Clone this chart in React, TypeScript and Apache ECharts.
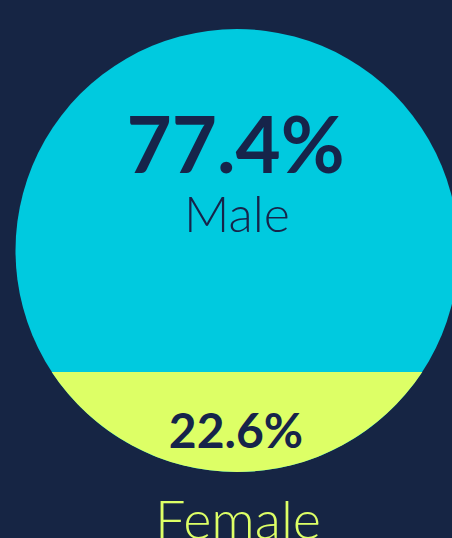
import React, { useEffect, useRef } from "react";
import * as echarts from "echarts";

const categories = ["Male", "Female"];
const shares = [77.4, 22.6];
const axisMin = 0;
const axisMax = 100;

const BG = "#162544";
const CYAN = "#00cadf";
const LIME = "#ddff66";
const INK = "#16244a";
const FONT = "Lato, 'Noto Sans', sans-serif";

export default function App() {
  const ref = useRef<HTMLDivElement>(null);
  useEffect(() => {
    document.body.style.margin = "0";
    document.body.style.background = BG;
    const chart = echarts.init(ref.current!, null, { renderer: "svg" });
    chart.setOption({
      animation: false,
      backgroundColor: BG,
      grid: { left: 15.5, top: 29, right: 0, height: 443 },
      xAxis: { type: "value", min: 0, max: 1, show: false },
      yAxis: { type: "value", min: axisMin, max: axisMax, show: false },
      series: [
        {
          type: "custom",
          coordinateSystem: "cartesian2d",
          data: [[0, shares[1], shares[0]]],
          renderItem: (params: any, api: any) => {
            const female = api.value(1);
            const male = api.value(2);
            const top = api.coord([0, axisMax]);
            const bottom = api.coord([0, axisMin]);
            const r = (bottom[1] - top[1]) / 2;
            const cx = top[0] + r;
            const cy = top[1] + r;
            const ys = api.coord([0, female])[1];
            const dy = ys - cy;
            const w = Math.sqrt(Math.max(0, r * r - dy * dy));
            const large = dy < 0 ? 1 : 0;
            const segPath = `M ${cx + w} ${ys} A ${r} ${r} 0 ${large} 1 ${cx - w} ${ys} Z`;
            return {
              type: "group",
              children: [
                { type: "circle", shape: { cx, cy, r }, style: { fill: CYAN } },
                { type: "path", shape: { pathData: segPath }, style: { fill: LIME } },
                {
                  type: "text",
                  style: {
                    text: male.toFixed(1) + "%",
                    x: cx - 1.5, y: top[1] + 0.258 * 2 * r,
                    align: "center", verticalAlign: "middle",
                    fill: INK, fontSize: 78, fontWeight: "bold", fontFamily: FONT,
                  },
                },
                {
                  type: "text",
                  style: {
                    text: categories[0],
                    x: cx, y: top[1] + 0.415 * 2 * r,
                    align: "center", verticalAlign: "middle",
                    fill: INK, fontSize: 50, fontWeight: 300, fontFamily: FONT,
                  },
                },
                {
                  type: "text",
                  style: {
                    text: female.toFixed(1) + "%",
                    x: cx - 1, y: top[1] + 0.903 * 2 * r,
                    align: "center", verticalAlign: "middle",
                    fill: INK, fontSize: 48, fontWeight: "bold", fontFamily: FONT,
                  },
                },
                {
                  type: "text",
                  style: {
                    text: categories[1],
                    x: cx + 1, y: bottom[1] + 46,
                    align: "center", verticalAlign: "middle",
                    fill: LIME, fontSize: 54, fontWeight: 300, fontFamily: FONT,
                  },
                },
              ],
            };
          },
        },
      ],
    });
    return () => chart.dispose();
  }, []);
  return (
    <div
      ref={ref}
      style={{ position: "fixed", left: 0, top: 0, width: 452, height: 538, background: BG }}
    />
  );
}
